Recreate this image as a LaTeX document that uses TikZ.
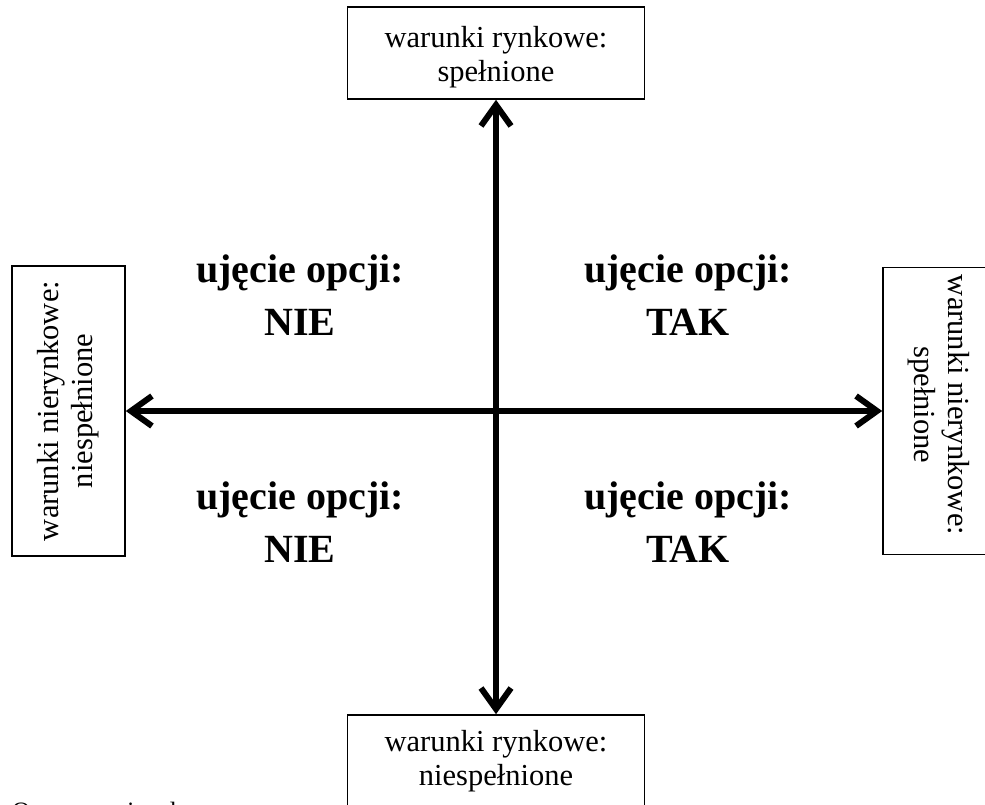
\documentclass[tikz,border=0pt]{standalone}
\usepackage{fontspec}
\setmainfont{Liberation Serif}
\usetikzlibrary{arrows.meta}

\begin{document}
\begin{tikzpicture}[x=1pt,y=-1pt,
  box/.style={draw, line width=1.6pt, inner sep=0pt},
  boxtext/.style={align=center, inner sep=0pt,
    font=\fontsize{30.5}{34}\selectfont},
  quad/.style={align=center, inner sep=0pt,
    font=\fontsize{40}{53}\selectfont\bfseries},
  tip/.style={Straight Barb[length=21pt,width=30pt]},
  axis/.style={line width=6pt, {Straight Barb[length=21pt,width=30pt]}-{Straight Barb[length=21pt,width=30pt]}}]
\useasboundingbox (0,0) rectangle (985,805);

% boxes at the ends of the axes
\node[box, minimum width=297pt, minimum height=92pt] (top) at (496,53) {};
\node[box, minimum width=297pt, minimum height=92pt] (bottom) at (496,761) {};
\node[box, minimum width=113pt, minimum height=290pt] (left) at (68.5,411) {};
\node[box, minimum width=115pt, minimum height=287pt] (right) at (940.5,411) {};

\node[boxtext] (toptext) at ([yshift=-4pt]top.center) {warunki rynkowe:\\spełnione};
\node[boxtext] (bottomtext) at (bottom) {warunki rynkowe:\\niespełnione};
\node[boxtext, rotate=90] (lefttext) at (left) {warunki nierynkowe:\\niespełnione};
\node[boxtext, rotate=-90] (righttext) at ([yshift=6pt,xshift=-2pt]right.center) {warunki nierynkowe:\\spełnione};

% axes
\draw[axis] (top.south) -- (bottom.north);
\draw[axis] (left.east) -- (right.west);

% quadrant labels
\node[quad] (q1) at (300,295) {ujęcie opcji:\\NIE};
\node[quad] (q2) at (688,295) {ujęcie opcji:\\TAK};
\node[quad] (q3) at (300,522) {ujęcie opcji:\\NIE};
\node[quad] (q4) at (688,522) {ujęcie opcji:\\TAK};

% source line below the diagram
\node[anchor=base west, inner sep=0pt, font=\fontsize{25}{30}\selectfont]
  (source) at (12,819.5) {Opracowanie własne};
\end{tikzpicture}
\end{document}
